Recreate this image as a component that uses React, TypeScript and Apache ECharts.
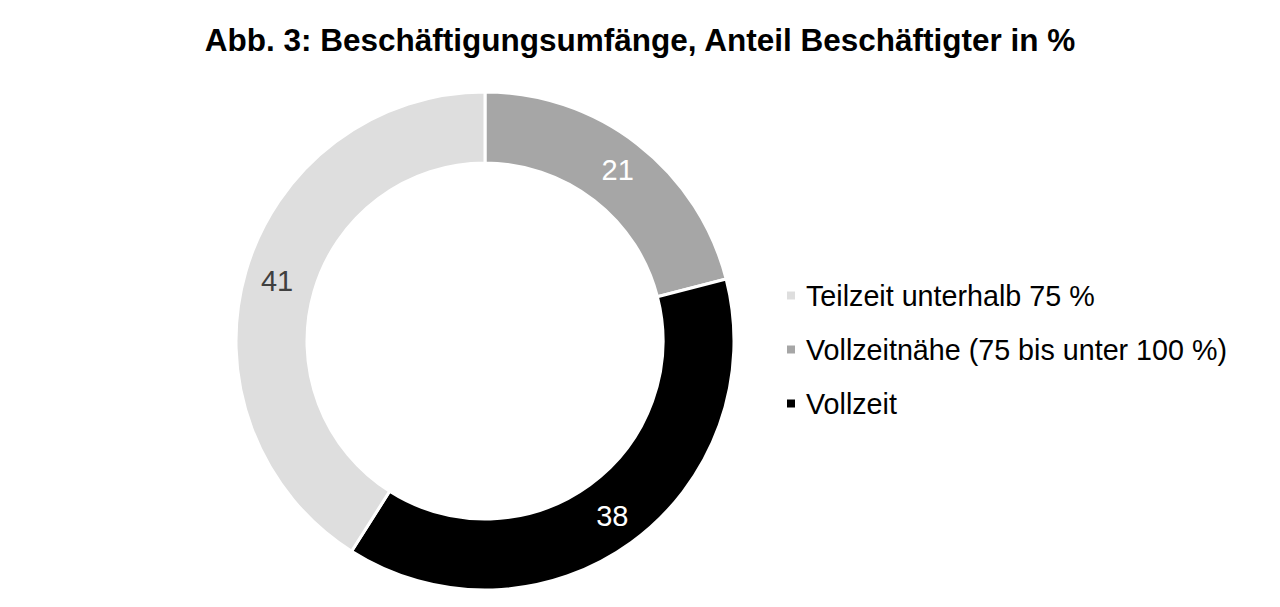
import { useEffect, useRef } from 'react'
import * as echarts from 'echarts'

const FONT = '"Liberation Sans", Arial, sans-serif'

// categories in drawing order (clockwise from 12 o'clock)
const categories = ['Vollzeitnähe (75 bis unter 100 %)', 'Vollzeit', 'Teilzeit unterhalb 75 %']
const shares = [21, 38, 41]
const colors = ['#a6a6a6', '#000000', '#dedede']
const labelColors = ['#ffffff', '#ffffff', '#404040']

// legend order as in the figure
const legendOrder = ['Teilzeit unterhalb 75 %', 'Vollzeitnähe (75 bis unter 100 %)', 'Vollzeit']

export default function App() {
  const chartRef = useRef<HTMLDivElement>(null)

  useEffect(() => {
    if (!chartRef.current) return
    const chart = echarts.init(chartRef.current, undefined, { renderer: 'svg' })

    const option = {
      animation: false,
      title: {
        text: 'Abb. 3: Beschäftigungsumfänge, Anteil Beschäftigter in %',
        left: 'center',
        top: 19,
        textStyle: {
          fontFamily: FONT,
          fontSize: 31.5,
          fontWeight: 'bold',
          color: '#000'
        }
      },
      legend: {
        orient: 'vertical',
        left: 785,
        top: 281,
        padding: 0,
        data: legendOrder,
        icon: 'rect',
        itemWidth: 10,
        itemHeight: 10,
        itemGap: 25,
        textStyle: {
          fontFamily: FONT,
          fontSize: 28.7,
          color: '#000',
          padding: [0, 0, 0, 5]
        }
      },
      series: [
        {
          type: 'pie',
          center: [485, 341],
          radius: [178, 249],
          startAngle: 90,
          clockwise: true,
          avoidLabelOverlap: false,
          itemStyle: {
            borderColor: '#ffffff',
            borderWidth: 3
          },
          label: {
            show: true,
            position: 'inside',
            formatter: '{c}',
            fontFamily: FONT,
            fontSize: 29
          },
          labelLine: { show: false },
          data: categories.map((name, i) => ({
            name,
            value: shares[i],
            itemStyle: { color: colors[i] },
            label: { color: labelColors[i] }
          }))
        }
      ]
    }

    chart.setOption(option)

    const handleResize = () => chart.resize()
    window.addEventListener('resize', handleResize)

    return () => {
      window.removeEventListener('resize', handleResize)
      chart.dispose()
    }
  }, [])

  return (
    <div
      ref={chartRef}
      style={{ position: 'absolute', left: 0, top: 0, width: 1280, height: 607, background: '#fff' }}
    />
  )
}
